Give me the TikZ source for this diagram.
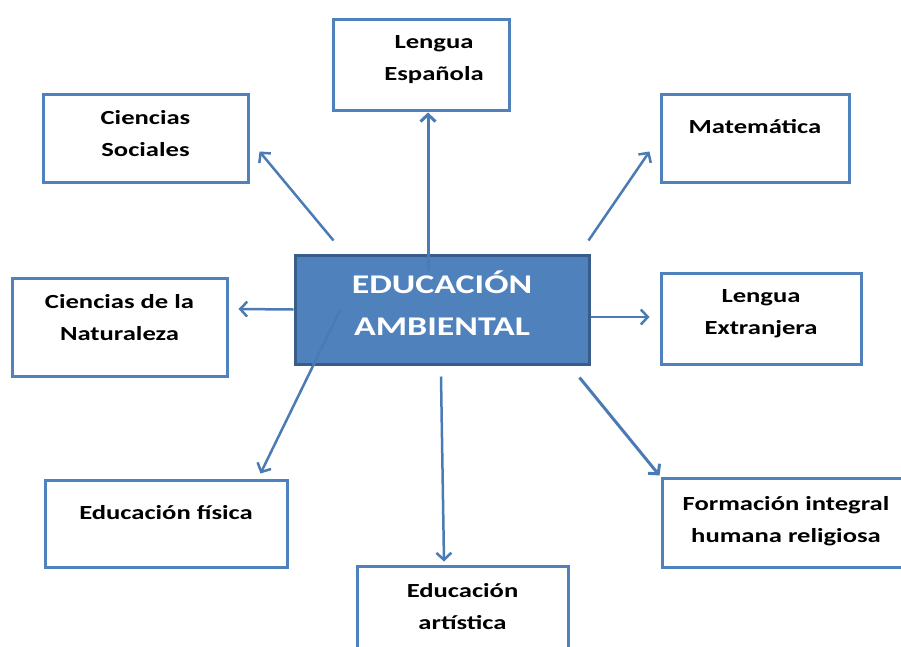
\documentclass[tikz,border=0pt]{standalone}
\usepackage{fontspec}
\setmainfont{Carlito}[FakeStretch=1.33]
\usetikzlibrary{arrows.meta}
\definecolor{areablue}{RGB}{79,129,189}
\definecolor{areadark}{RGB}{56,93,138}
\tikzset{
  area/.style={draw=areablue, line width=3pt, shape=rectangle, inner sep=0pt},
  areatext/.style={anchor=north, align=center, inner sep=0pt, font=\bfseries\fontsize{20}{32}\selectfont},
  link/.style={draw=areablue!95!black, line width=2.5pt, -{Straight Barb[length=7pt,width=15pt]}}
}

\begin{document}
\begin{tikzpicture}[x=1pt,y=-1pt]
        \useasboundingbox (0,0) rectangle (901,646);
        \clip (0,0) rectangle (901,646);
        % centre
        \draw (442,309.5) node (EA) [draw=areadark,fill=areablue,line width=3pt,minimum width=294pt,minimum height=109pt,inner sep=0pt,
            label={[anchor=south,yshift=30pt,inner sep=0pt,text=white,align=center,font=\bfseries\fontsize{27}{42}\selectfont]south:{EDUCACIÓN\\AMBIENTAL}}] {};
        % subjects
        \draw (421,64.5) node (LE) [area,minimum width=176pt,minimum height=91pt,label={[areatext,yshift=-18pt,xshift=13pt]north:{Lengua\\Española}}] {};
        \draw (145.5,138) node (CS) [area,minimum width=205pt,minimum height=88pt,label={[areatext,yshift=-18pt]north:{Ciencias\\Sociales}}] {};
        \draw (755,138) node (MA) [area,minimum width=188pt,minimum height=88pt,label={[areatext,yshift=-27pt]north:{Matemática}}] {};
        \draw (119.5,327) node (CN) [area,minimum width=215pt,minimum height=98pt,label={[areatext,yshift=-18pt]north:{Ciencias de la\\Naturaleza}}] {};
        \draw (761,318.5) node (LX) [area,minimum width=200pt,minimum height=91pt,label={[areatext,yshift=-18pt]north:{Lengua\\Extranjera}}] {};
        \draw (166,523.5) node (EF) [area,minimum width=242pt,minimum height=87pt,label={[areatext,yshift=-27pt]north:{Educación física}}] {};
        \draw (786,522.5) node (FI) [area,minimum width=248pt,minimum height=89pt,label={[areatext,yshift=-20pt]north:{Formación integral\\humana religiosa}}] {};
        \draw (462.5,623) node (AR) [area,minimum width=211pt,minimum height=114pt,label={[areatext,yshift=-19pt]north:{Educación\\artística}}] {};
        % arrows
        \draw[link,line width=3pt] ([shift={(-14,17)}]EA.north) -- ([shift={(7,1)}]LE.south);
        \draw[link] ([shift={(40,-13)}]EA.north west) -- ([shift={(10,-32)}]CS.south east);
        \draw[link] ([shift={(-2,-13)}]EA.north east) -- ([shift={(-10,-32)}]MA.south west);
        \draw[link] (EA.west) -- ([shift={(10,-18)}]CN.east);
        \draw[link] ([shift={(0,7.5)}]EA.east) -- ([shift={(-10,-1.5)}]LX.west);
        \draw[link] ([shift={(47,-56)}]EA.south west) -- ([shift={(-28,-5)}]EF.north east);
        \draw[link] ([shift={(-1,11)}]EA.south) -- ([shift={(-18.5,-3)}]AR.north);
        \draw[link,line width=3pt] ([shift={(-11,12)}]EA.south east) -- ([shift={(-1,-1)}]FI.north west);
\end{tikzpicture}
\end{document}
